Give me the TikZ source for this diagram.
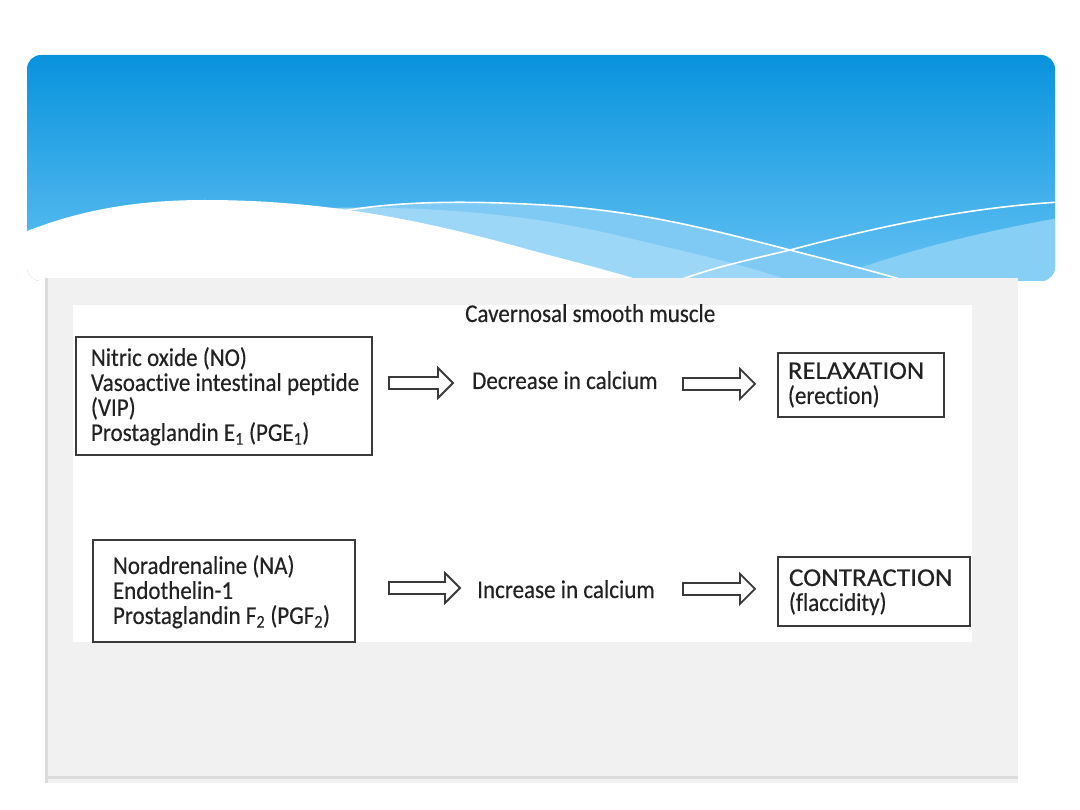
\documentclass[tikz,border=0pt]{standalone}
\usepackage{fontspec}
\setmainfont{Carlito}[FakeStretch=0.9, FakeBold=0.3, Ligatures=NoCommon]
\usepackage{graphicx}
\usetikzlibrary{calc}
\definecolor{ink}{HTML}{222222}
\definecolor{boxline}{HTML}{3A3A3A}
\definecolor{hdtop}{HTML}{0893DD}
\definecolor{hdbot}{HTML}{64C1F3}
\definecolor{bandMed}{HTML}{7ECAF5}
\definecolor{bandPale}{HTML}{9DD7F8}
\definecolor{bandRight}{HTML}{88CFF6}
\definecolor{panel}{HTML}{F1F1F1}
\definecolor{panelEdge}{HTML}{DCDCDC}
\begin{document}
\begin{tikzpicture}[x=1pt,y=-1pt,
  lbl/.style={inner sep=0pt, anchor=base west, text=ink, font=\fontsize{25.6}{25}\selectfont},
  boxed/.style={draw=boxline, line width=1.9pt, anchor=north west, align=flush left, inner ysep=0pt, text=ink, font=\fontsize{25.6}{25}\selectfont},
  hollowarrow/.style n args={3}{draw=boxline, line width=1.8pt, fill=white, line join=miter,
    to path={let \p2=(\tikztotarget) in
      (\x2-#1pt-#2pt,\y2+#3pt+6pt) -- (\x2-#1pt-15pt,\y2+#3pt+6pt) -- (\x2-#1pt-15pt,\y2+#3pt+15pt)
      -- (\x2-#1pt,\y2+#3pt) -- (\x2-#1pt-15pt,\y2+#3pt-15pt) -- (\x2-#1pt-15pt,\y2+#3pt-6pt)
      -- (\x2-#1pt-#2pt,\y2+#3pt-6pt) -- cycle}}
]
\useasboundingbox (0,0) rectangle (1080,810);
\fill[white] (0,0) rectangle (1080,810);
% header
\path[top color=hdtop, bottom color=hdbot, rounded corners=14pt] (27,55) rectangle (1055,281);
\begin{scope}
  \clip[rounded corners=14pt] (27,55) rectangle (1055,281);
  \fill[bandRight] (1070,216) .. controls (960,235) and (880,258) .. (800,290) -- (1070,290) -- cycle;
  \fill[bandMed] (343,211) .. controls (400,201) and (470,200) .. (560,206) .. controls (650,213) and (720,232) .. (790,250) .. controls (840,263) and (890,275) .. (935,290) -- (330,290) -- cycle;
  \fill[bandPale] (325,208) .. controls (420,206) and (520,212) .. (620,236) .. controls (700,255) and (760,268) .. (815,290) -- (325,290) -- cycle;
  \fill[white] (20,234) .. controls (80,209) and (140,200) .. (205,200) .. controls (330,200) and (430,222) .. (530,250) .. controls (590,266) and (630,276) .. (670,290) -- (20,290) -- cycle;
  \draw[white, line width=1.6pt] (343,211) .. controls (400,201) and (470,200) .. (560,206) .. controls (650,213) and (720,232) .. (790,250) .. controls (840,263) and (890,275) .. (935,290);
  \draw[white, line width=1.6pt] (655,290) .. controls (700,270) and (740,262) .. (790,250) .. controls (870,229) and (960,208) .. (1060,202);
\end{scope}
% content panel
\fill[panel] (45,278) rectangle (1018,783);
\fill[panelEdge] (45,278) rectangle (48,783);
\fill[panelEdge] (45,776) rectangle (1018,779);
\fill[white] (73,305) rectangle (972,642);
% diagram
\node[lbl] (title) at (465,322) {Cavernosal smooth muscle};
\node[boxed, text width=266pt, inner xsep=15pt, text height=29pt, text depth=89pt] (box1) at (75,336)
  {\mbox{Nitric oxide (NO)}\\\mbox{Vasoactive intestinal peptide}\\(VIP)\\\mbox{Prostaglandin E\textsubscript{1} (PGE\textsubscript{1})}};
\node[lbl] (dec) at (472,389) {Decrease in calcium};
\node[boxed, text width=146pt, inner xsep=10pt, text height=26pt, text depth=38pt] (relax) at (777,352)
  {\mbox{\scalebox{1.16}[1]{RELAXATION}}\\(erection)};
\node[boxed, text width=222pt, inner xsep=20pt, text height=34pt, text depth=68pt] (box2) at (92,539)
  {\mbox{Noradrenaline (NA)}\\Endothelin-1\\\mbox{Prostaglandin F\textsubscript{2} (PGF\textsubscript{2})}};
\node[lbl] (inc) at (477,598) {Increase in calcium};
\node[boxed, text width=170pt, inner xsep=11pt, text height=29pt, text depth=40pt] (contr) at (777,556)
  {\mbox{\scalebox{1.18}[1]{CONTRACTION}}\\(flaccidity)};
\draw[hollowarrow={19}{64}{6}] (box1.east) to (dec.base west);
\draw[hollowarrow={22}{72}{1}] (dec.east) to (relax.west);
\draw[hollowarrow={17}{71}{10}] (box2.east) to (inc.base west);
\draw[hollowarrow={22}{72}{2.5}] (inc.east) to (contr.west);
\end{tikzpicture}
\end{document}
